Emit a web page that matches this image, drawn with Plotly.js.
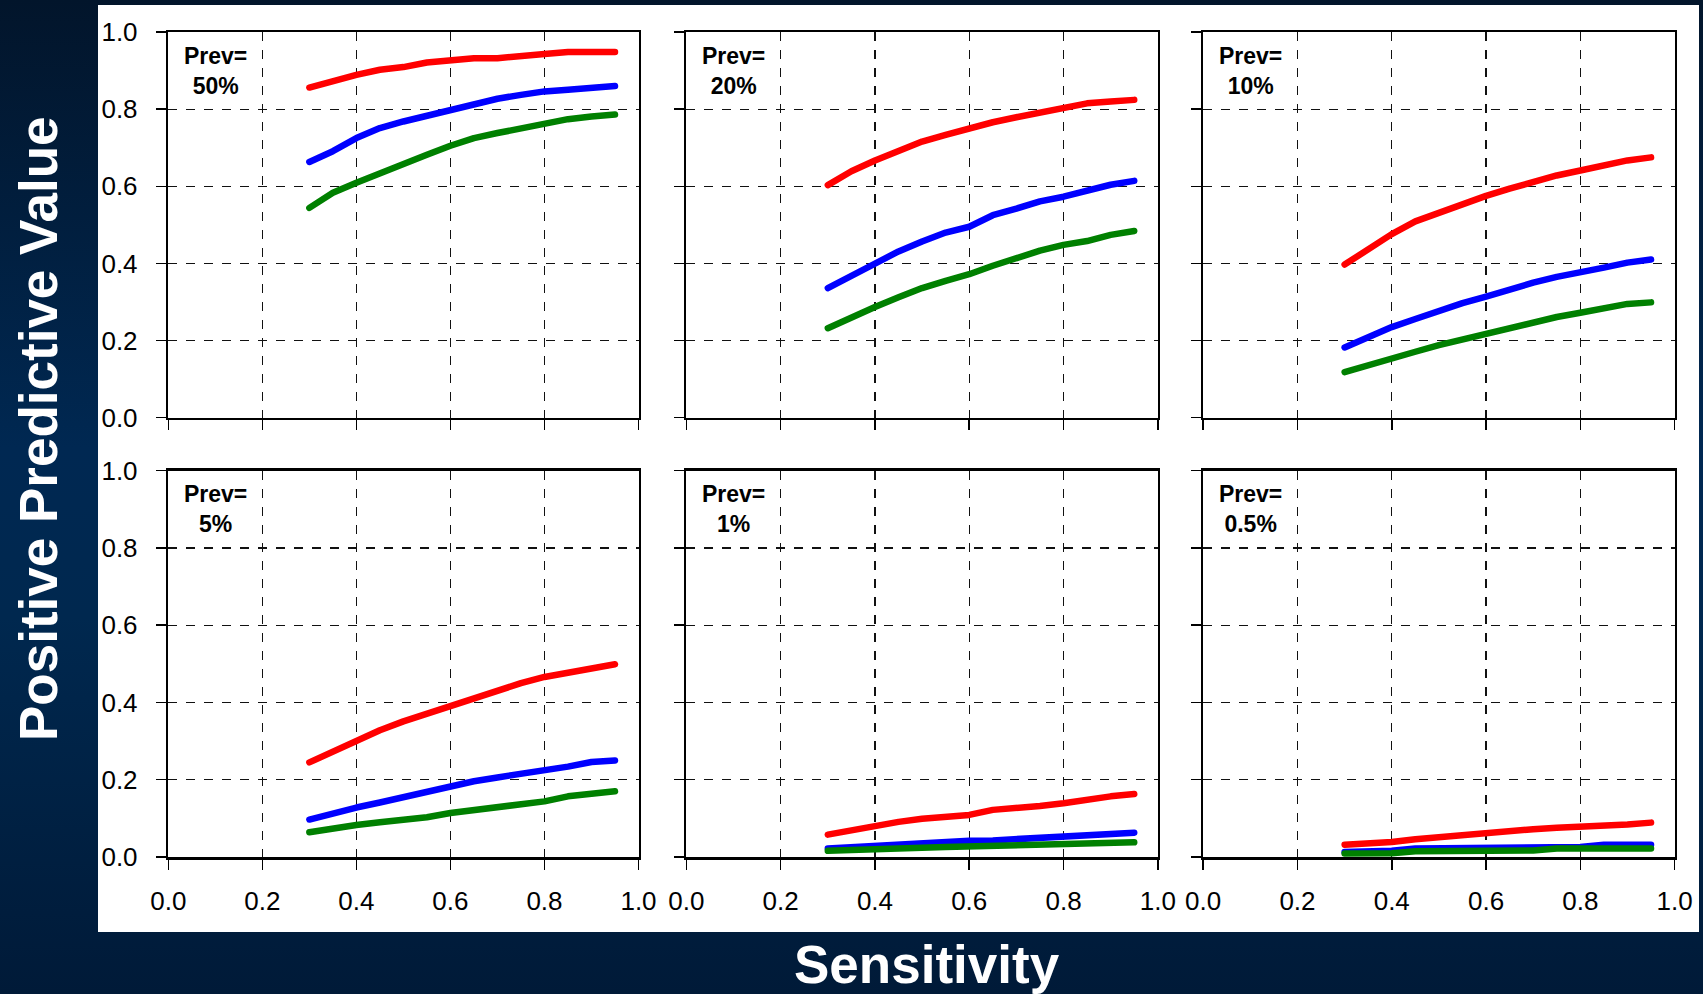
<!DOCTYPE html>
<html>
<head>
<meta charset="utf-8">
<script src="https://cdn.plot.ly/plotly-3.0.1.min.js"></script>
<style>
html, body { margin:0; padding:0; width:1703px; height:994px; overflow:hidden;
  background: linear-gradient(to bottom, #02152b 0%, #002852 45%, #00284f 62%, #001a38 100%); }
#chart { width:1703px; height:994px; }
.js-line { stroke-linecap: round !important; stroke-linejoin: round !important; }
</style>
</head>
<body>
<div id="chart"></div>
<script>
// ---- data ----
const sensitivity = [0.30, 0.35, 0.40, 0.45, 0.50, 0.55, 0.60, 0.65, 0.70, 0.75, 0.80, 0.85, 0.90, 0.95];
const tickValues = [0.0, 0.2, 0.4, 0.6, 0.8, 1.0];
const tickLabels = ['0.0', '0.2', '0.4', '0.6', '0.8', '1.0'];
const prevalenceLabels = ['50%', '20%', '10%', '5%', '1%', '0.5%'];
const seriesColors = ['#ff0000', '#0000ff', '#008000'];

const red50   = [0.856, 0.873, 0.889, 0.902, 0.909, 0.921, 0.928, 0.932, 0.932, 0.939, 0.943, 0.948, 0.948, 0.948];
const blue50  = [0.663, 0.691, 0.725, 0.751, 0.768, 0.783, 0.798, 0.813, 0.827, 0.837, 0.846, 0.850, 0.857, 0.860];
const green50 = [0.544, 0.583, 0.609, 0.634, 0.660, 0.682, 0.705, 0.725, 0.738, 0.751, 0.764, 0.774, 0.781, 0.786];

const red20   = [0.603, 0.639, 0.667, 0.693, 0.716, 0.733, 0.750, 0.766, 0.779, 0.791, 0.803, 0.815, 0.820, 0.824];
const blue20  = [0.336, 0.367, 0.397, 0.431, 0.457, 0.480, 0.495, 0.525, 0.542, 0.561, 0.573, 0.590, 0.604, 0.614];
const green20 = [0.232, 0.261, 0.287, 0.312, 0.336, 0.355, 0.372, 0.394, 0.414, 0.433, 0.448, 0.458, 0.474, 0.484];

const red10   = [0.397, 0.438, 0.476, 0.509, 0.532, 0.554, 0.575, 0.594, 0.613, 0.628, 0.641, 0.654, 0.667, 0.675];
const blue10  = [0.182, 0.209, 0.235, 0.256, 0.278, 0.297, 0.314, 0.333, 0.350, 0.365, 0.379, 0.389, 0.402, 0.410];
const green10 = [0.118, 0.137, 0.154, 0.171, 0.188, 0.203, 0.218, 0.233, 0.248, 0.261, 0.272, 0.282, 0.295, 0.299];

const red5    = [0.245, 0.273, 0.302, 0.328, 0.351, 0.371, 0.390, 0.411, 0.433, 0.450, 0.466, 0.478, 0.491, 0.499];
const blue5   = [0.097, 0.114, 0.128, 0.141, 0.155, 0.170, 0.183, 0.196, 0.206, 0.215, 0.223, 0.234, 0.246, 0.250];
const green5  = [0.064, 0.075, 0.083, 0.090, 0.095, 0.103, 0.114, 0.122, 0.131, 0.137, 0.144, 0.157, 0.164, 0.170];

const red1    = [0.058, 0.070, 0.081, 0.091, 0.099, 0.104, 0.109, 0.122, 0.126, 0.132, 0.139, 0.150, 0.157, 0.163];
const blue1   = [0.022, 0.026, 0.030, 0.033, 0.037, 0.039, 0.042, 0.043, 0.046, 0.050, 0.054, 0.059, 0.059, 0.063];
const green1  = [0.016, 0.019, 0.022, 0.022, 0.024, 0.026, 0.028, 0.028, 0.029, 0.032, 0.035, 0.038, 0.038, 0.038];

const red05   = [0.032, 0.035, 0.039, 0.046, 0.052, 0.057, 0.061, 0.068, 0.072, 0.076, 0.078, 0.084, 0.084, 0.089];
const blue05  = [0.013, 0.014, 0.016, 0.022, 0.022, 0.022, 0.022, 0.026, 0.026, 0.026, 0.026, 0.032, 0.032, 0.032];
const green05 = [0.009, 0.009, 0.010, 0.015, 0.015, 0.015, 0.015, 0.015, 0.017, 0.022, 0.022, 0.022, 0.022, 0.022];

const panelSeries = [
  [red50, blue50, green50],
  [red20, blue20, green20],
  [red10, blue10, green10],
  [red5, blue5, green5],
  [red1, blue1, green1],
  [red05, blue05, green05]
];

// ---- layout geometry ----
const W = 1703, H = 994;
const colPx = [[168.3, 638.5], [686.4, 1157.8], [1203.2, 1674.6]];
const rowPx = [[32.0, 417.7], [470.7, 857.0]];

const traces = [];
panelSeries.forEach((set, p) => {
  const idx = p === 0 ? '' : String(p + 1);
  set.forEach((vals, s) => {
    traces.push({
      type: 'scatter', mode: 'lines',
      x: sensitivity, y: vals,
      xaxis: 'x' + idx, yaxis: 'y' + idx,
      line: { color: seriesColors[s], width: 6.5 },
      hoverinfo: 'skip', showlegend: false
    });
  });
});

const tickFont = { family: 'Liberation Sans, Arial, sans-serif', size: 26, color: '#000' };
function axisBase() {
  return {
    range: [0, 1], tickvals: tickValues, ticktext: tickLabels,
    ticks: 'outside', ticklen: 10, tickwidth: 1.5, tickcolor: '#000',
    showline: true, mirror: true, linecolor: '#000', linewidth: 2.5,
    showgrid: true, gridcolor: '#111111', gridwidth: 1.2, griddash: 'dash',
    zeroline: false, tickfont: tickFont, fixedrange: true
  };
}

const layout = {
  width: W, height: H,
  margin: { l: 0, r: 0, t: 0, b: 0 },
  paper_bgcolor: 'rgba(0,0,0,0)',
  plot_bgcolor: '#ffffff',
  showlegend: false,
  shapes: [{
    type: 'rect', xref: 'paper', yref: 'paper', layer: 'below',
    x0: 98 / W, x1: 1699 / W, y0: 1 - 932 / H, y1: 1 - 5 / H,
    fillcolor: '#ffffff', line: { width: 0 }
  }],
  annotations: []
};

for (let p = 0; p < 6; p++) {
  const r = Math.floor(p / 3), c = p % 3;
  const idx = p === 0 ? '' : String(p + 1);
  const xa = axisBase();
  xa.domain = [colPx[c][0] / W, colPx[c][1] / W];
  xa.anchor = 'y' + idx;
  xa.showticklabels = (r === 1);
  xa.ticklabelstandoff = 9;
  const ya = axisBase();
  ya.domain = [1 - rowPx[r][1] / H, 1 - rowPx[r][0] / H];
  ya.anchor = 'x' + idx;
  ya.showticklabels = (c === 0);
  ya.ticklabelstandoff = 13;
  layout['xaxis' + idx] = xa;
  layout['yaxis' + idx] = ya;
  layout.annotations.push({
    xref: 'x' + idx, yref: 'y' + idx, x: 0.1, y: 0.9,
    text: '<b>Prev=</b><br><b>' + prevalenceLabels[p] + '</b>',
    showarrow: false, xanchor: 'center', yanchor: 'middle', align: 'center',
    font: { family: 'Liberation Sans, Arial, sans-serif', size: 23, color: '#000' }
  });
}

layout.annotations.push({
  xref: 'paper', yref: 'paper', x: 927 / W, y: 1 - 964 / H,
  text: '<b>Sensitivity</b>', showarrow: false, xanchor: 'center', yanchor: 'middle',
  font: { family: 'Liberation Sans, Arial, sans-serif', size: 53, color: '#ffffff' }
});
layout.annotations.push({
  xref: 'paper', yref: 'paper', x: 38 / W, y: 1 - 429 / H,
  text: '<b>Positive Predictive Value</b>', showarrow: false, textangle: -90,
  xanchor: 'center', yanchor: 'middle',
  font: { family: 'Liberation Sans, Arial, sans-serif', size: 53, color: '#ffffff' }
});

Plotly.newPlot('chart', traces, layout, { staticPlot: true, displayModeBar: false });
</script>
</body>
</html>
